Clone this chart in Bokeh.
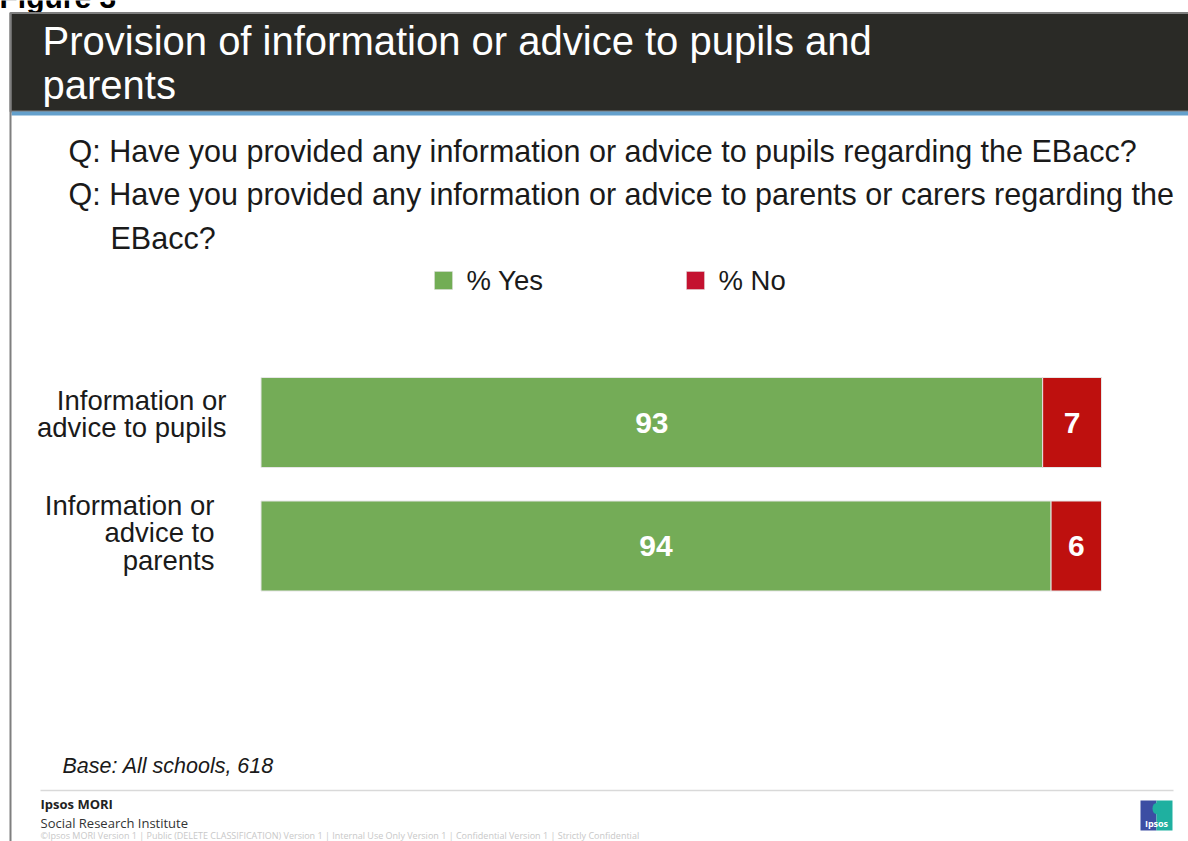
from bokeh.plotting import figure
from bokeh.models import Range1d
from bokeh.core.properties import value
from bokeh.embed import file_html
from bokeh.resources import INLINE

# ---- data ----
categories = [["Information or", "advice to pupils"], ["Information or", "advice to", "parents"]]
yes_vals = [93, 94]
no_vals = [7, 6]
series_names = ["% Yes", "% No"]
figure_label = "Figure 3"
title_lines = ["Provision of information or advice to pupils and", "parents"]
question_lines = [
    "Q: Have you provided any information or advice to pupils regarding the EBacc?",
    "Q: Have you provided any information or advice to parents or carers regarding the",
]
question_cont = "EBacc?"
base_text = "Base: All schools, 618"
footer_small = ("©Ipsos MORI    Version 1 | Public (DELETE CLASSIFICATION)    Version 1 | Internal Use Only"
                "    Version 1 | Confidential    Version 1 | Strictly Confidential")

GREEN = "#74ac57"
RED = "#be100e"
LEG_GREEN = "#72ad55"
LEG_RED = "#c41230"
FONT = "Liberation Sans"
TXT = "#1a1a1a"

W, H = 1188, 841
OX, OY = 0, 0  # page position of the canvas
# percent scale: 0% at page x 260.5, 100% at page x 1101
x0p, x100p = 260.5, 1101.0
ppu = (x100p - x0p) / 100.0
xs = (OX - x0p) / ppu
xe = (OX + W - x0p) / ppu
# category index 0 at page y 422, index 1 at page y 545.5
y0p, y1p = 422.0, 545.5
ppc = y1p - y0p
ys = (OY + H - y0p) / ppc
ye = (OY - y0p) / ppc

p = figure(width=W, height=H, output_backend="svg", toolbar_location=None,
           x_range=Range1d(xs, xe), y_range=Range1d(ys, ye),
           x_axis_type=None, y_axis_type=None, min_border=0)
p.outline_line_color = None
p.background_fill_color = "white"
p.border_fill_color = "white"
p.extra_x_ranges = {"px": Range1d(OX, OX + W)}
p.extra_y_ranges = {"py": Range1d(OY + H, OY)}

L = dict(x_range_name="px", y_range_name="py")

# ---- figure label (cut off at top, as in the source) ----
p.text(x=[-1], y=[-3], text=[figure_label], text_color="black", text_font=value(FONT),
       text_font_style="bold", text_font_size="30px", text_baseline="middle", **L)

# ---- slide frame / header ----
p.quad(left=[10], right=[OX + W + 2], top=[12.5], bottom=[111], fill_color="#2a2a26",
       line_color="#7f7f7f", line_width=2, **L)
p.quad(left=[11], right=[OX + W + 2], top=[111], bottom=[115], fill_color="#64a0cc",
       line_color=None, **L)
p.segment(x0=[10], y0=[12], x1=[10], y1=[OY + H + 2], line_color="#7f7f7f", line_width=2, **L)

p.text(x=[42, 42], y=[40, 84], text=title_lines, text_color="white",
       text_font=value(FONT), text_font_size="40px", text_baseline="middle", **L)

# ---- questions ----
p.text(x=[68, 68], y=[150, 193], text=question_lines, text_color=TXT,
       text_font=value(FONT), text_font_size="30.5px", text_baseline="middle", **L)
p.text(x=[110], y=[237], text=[question_cont], text_color=TXT,
       text_font=value(FONT), text_font_size="30.5px", text_baseline="middle", **L)

# ---- legend ----
p.quad(left=[434, 686], right=[452, 704], top=[271, 271], bottom=[289, 289],
       fill_color=[LEG_GREEN, LEG_RED], line_color="#dddddd", line_width=0.5, **L)
p.text(x=[466, 718], y=[280, 280], text=series_names, text_color=TXT,
       text_font=value(FONT), text_font_size="27.5px", text_baseline="middle", **L)

# ---- bars ----
idx = list(range(len(yes_vals)))
bh = 90.0 / ppc
no_right = [a + b for a, b in zip(yes_vals, no_vals)]
p.hbar(y=idx, left=[0] * len(idx), right=yes_vals, height=bh,
       fill_color=GREEN, line_color="#e6e6e6", line_width=1)
p.hbar(y=idx, left=yes_vals, right=no_right, height=bh,
       fill_color=RED, line_color="#e6e6e6", line_width=1)

p.text(x=[v / 2 for v in yes_vals], y=idx, text=[str(v) for v in yes_vals],
       text_color="white", text_font=value(FONT), text_font_style="bold",
       text_font_size="30px", text_align="center", text_baseline="middle")
p.text(x=[a + b / 2 for a, b in zip(yes_vals, no_vals)], y=idx,
       text=[str(v) for v in no_vals], text_color="white", text_font=value(FONT),
       text_font_style="bold", text_font_size="30px", text_align="center",
       text_baseline="middle")

# ---- category labels ----
lab_x = [(226 - x0p) / ppu, (214 - x0p) / ppu]
lab_shift = [-8.5 / ppc, -13.5 / ppc]
line_gap = 27.5 / ppc
for i, lines in enumerate(categories):
    n = len(lines)
    yl = [i + lab_shift[i] + (k - (n - 1) / 2) * line_gap for k in range(n)]
    p.text(x=[lab_x[i]] * n, y=yl, text=lines, text_color=TXT,
           text_font=value(FONT), text_font_size="27.5px", text_align="right",
           text_baseline="middle")

# ---- base / footer ----
p.text(x=[62], y=[765], text=[base_text], text_color=TXT, text_font=value(FONT),
       text_font_style="italic", text_font_size="21.5px", text_baseline="middle", **L)
p.segment(x0=[40], y0=[790], x1=[1173], y1=[790], line_color="#d9d9d9", line_width=1.5, **L)
p.text(x=[40], y=[803], text=["Ipsos MORI"], text_color="#222222", text_font=value("Open Sans"),
       text_font_style="bold", text_font_size="13px", text_baseline="middle", **L)
p.text(x=[40], y=[822], text=["Social Research Institute"], text_color="#333333",
       text_font=value("Open Sans"), text_font_size="13px", text_baseline="middle", **L)
p.text(x=[40], y=[835], text=[footer_small], text_color="#c8c8c8",
       text_font=value("Open Sans"), text_font_size="9px", text_baseline="middle", **L)
# logo
p.quad(left=[1140], right=[1156], top=[800], bottom=[830], fill_color="#3c4ea3", line_color=None, **L)
p.quad(left=[1156], right=[1172], top=[800], bottom=[830], fill_color="#1fb0a0", line_color=None, **L)
p.ellipse(x=[1156], y=[808], width=[8], height=[11], fill_color="#1fb0a0", line_color=None, **L)
p.text(x=[1156], y=[823], text=["Ipsos"], text_color="white", text_font=value("Open Sans"),
       text_font_style="bold", text_font_size="9px", text_align="center", text_baseline="middle", **L)

open("out.html", "w").write(file_html(p, INLINE))
